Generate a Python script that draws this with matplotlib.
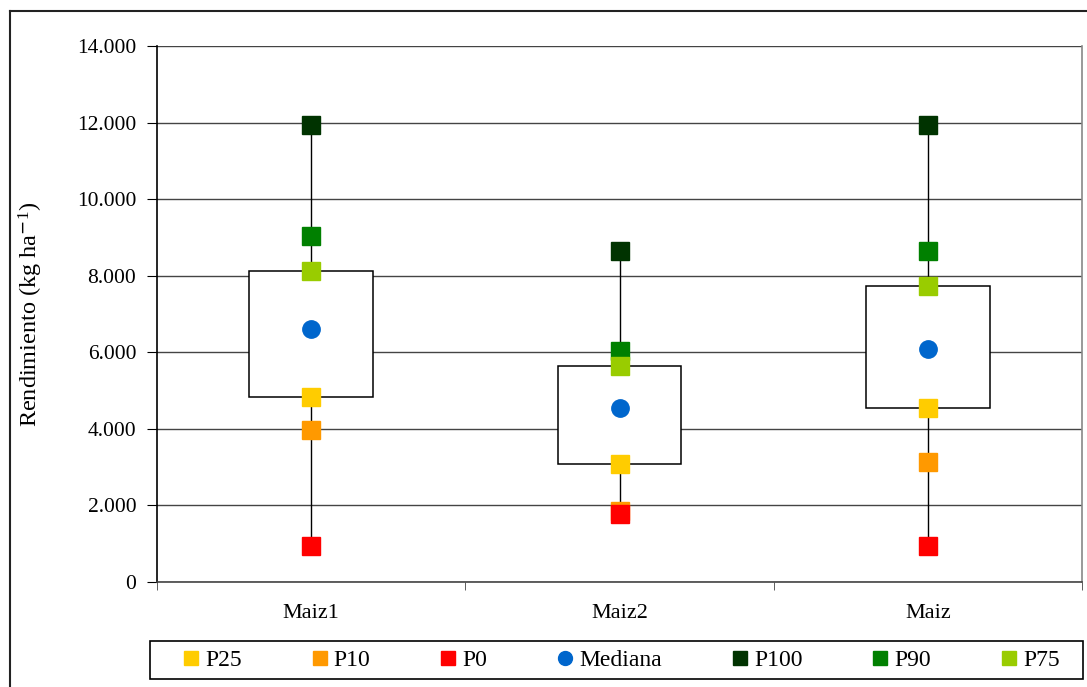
import matplotlib
matplotlib.use("Agg")
import matplotlib.pyplot as plt
from matplotlib.patches import Rectangle
from matplotlib.lines import Line2D
from matplotlib.ticker import FuncFormatter, FixedLocator

plt.rcParams['font.family'] = ['Liberation Serif', 'DejaVu Serif']
plt.rcParams['mathtext.fontset'] = 'custom'
plt.rcParams['mathtext.rm'] = 'Liberation Serif'
plt.rcParams['mathtext.it'] = 'Liberation Serif:italic'
plt.rcParams['mathtext.default'] = 'rm'

categories = ["Maiz1", "Maiz2", "Maiz"]
p0 = [940, 1775, 940]
p10 = [3970, 1865, 3135]
p25 = [4835, 3080, 4545]
mediana = [6610, 4545, 6085]
p75 = [8125, 5640, 7730]
p90 = [9035, 6035, 8645]
p100 = [11940, 8645, 11940]

series = [
    ("P25", p25, "#FFCC00", "s"),
    ("P10", p10, "#FF9900", "s"),
    ("P0", p0, "#FF0000", "s"),
    ("Mediana", mediana, "#0066CC", "o"),
    ("P100", p100, "#003300", "s"),
    ("P90", p90, "#008000", "s"),
    ("P75", p75, "#99CC00", "s"),
]

W, H = 1087, 687
fig = plt.figure(figsize=(W / 100, H / 100), dpi=100)
ax = fig.add_axes([157 / W, (H - 582) / H, (1082 - 157) / W, (582 - 46) / H])

x = list(range(len(categories)))
box_w = 0.4

# whiskers from minimum to maximum
ax.vlines(x, p0, p100, color="black", lw=1, zorder=2)

# interquartile boxes
for xi, lo, hi in zip(x, p25, p75):
    ax.add_patch(Rectangle((xi - box_w / 2, lo), box_w, hi - lo,
                           facecolor="white", edgecolor="black", lw=1.1, zorder=3))

# percentile markers
for name, vals, color, mk in series:
    ax.plot(x, vals, linestyle="none", marker=mk, markersize=12.5,
            markerfacecolor=color, markeredgecolor=color, zorder=4, label=name)

ax.set_xlim(-0.5, len(categories) - 0.5)
ax.set_ylim(0, 14000)
ax.set_yticks(range(0, 14001, 2000))
ax.yaxis.set_major_formatter(FuncFormatter(lambda v, _: f"{v:,.0f}".replace(",", ".")))
ax.grid(axis="y", color="#444444", lw=1, zorder=1)
ax.set_axisbelow(True)

ax.set_xticks(x)
ax.set_xticklabels(categories)
ax.xaxis.set_minor_locator(FixedLocator([i - 0.5 for i in range(len(categories) + 1)]))
ax.tick_params(axis="x", which="major", length=0, pad=16, labelsize=16)
ax.tick_params(axis="x", which="minor", length=6, direction="out", color="#444444")
ax.tick_params(axis="y", length=7, direction="out", pad=8, labelsize=15.5)

ax.spines["top"].set_visible(False)
ax.spines["left"].set_color("black")
ax.spines["bottom"].set_color("#444444")
ax.spines["right"].set_color("#888888")
for s in ("left", "bottom", "right"):
    ax.spines[s].set_linewidth(1.2)

ax.set_ylabel("Rendimiento (kg ha$^{\\mathsf{-}1}$)", fontsize=17.5)
ax.yaxis.set_label_coords(-(157 - 45) / (1082 - 157), 0.5)

# legend frame, then entries spread across it
fig.add_artist(Rectangle((150 / W, (H - 679) / H), (1083 - 150) / W, (679 - 641) / H,
                         transform=fig.transFigure, facecolor="white",
                         edgecolor="black", lw=1.2))
handles = [Line2D([], [], linestyle="none", marker=mk, markersize=10,
                  markerfacecolor=c, markeredgecolor=c) for _, _, c, mk in series]
leg = fig.legend(handles, [s[0] for s in series], ncol=7, mode="expand",
                 loc="center left",
                 bbox_to_anchor=(178 / W, (H - 679) / H, (1062 - 178) / W, (679 - 641) / H),
                 frameon=False, fontsize=17,
                 handletextpad=0.15, borderaxespad=0, borderpad=0.1, handlelength=0.9)

# outer frame lines
fig.add_artist(Line2D([10 / W, 1], [(H - 11) / H, (H - 11) / H], color="#222222", lw=1.5,
                      transform=fig.transFigure))
fig.add_artist(Line2D([10 / W, 10 / W], [0, (H - 11) / H], color="#222222", lw=1.5,
                      transform=fig.transFigure))

fig.savefig("out.png", dpi=100)
